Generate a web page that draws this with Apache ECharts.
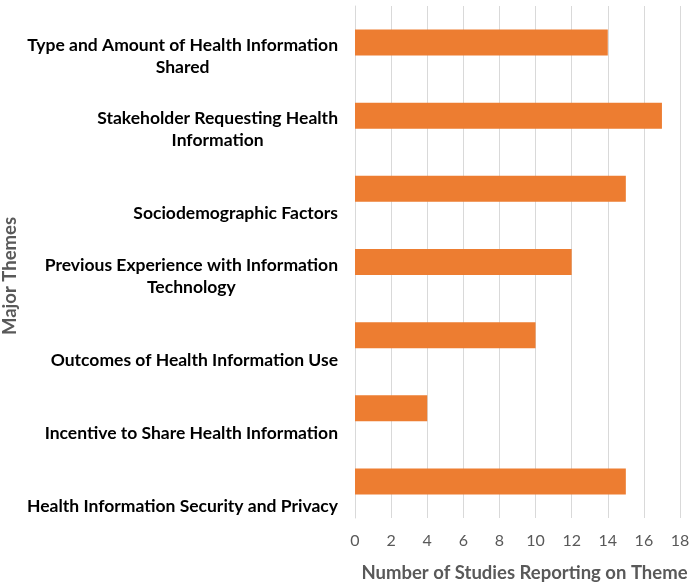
<!DOCTYPE html>
<html>
<head>
<meta charset="utf-8">
<script src="https://cdn.jsdelivr.net/npm/echarts@6/dist/echarts.min.js"></script>
<style>
  html, body { margin: 0; padding: 0; background: #fff; }
  #chart { width: 697px; height: 588px; }
</style>
</head>
<body>
<div id="chart"></div>
<script>
// themes, top to bottom (line breaks as in the chart)
const themes = [
    'Type and Amount of Health Information\nShared',
    'Stakeholder Requesting Health\nInformation',
    'Sociodemographic Factors',
    'Previous Experience with Information\nTechnology',
    'Outcomes of Health Information Use',
    'Incentive to Share Health Information',
    'Health Information Security and Privacy'
];
const studyCounts = [14, 17, 15, 12, 10, 4, 15];
const xTicks = [0, 18, 2]; // min, max, interval

const chart = echarts.init(document.getElementById('chart'));

const option = {
    backgroundColor: '#fff',
    animation: false,
    grid: { left: 355, right: 17, top: 6, bottom: 68 },
    xAxis: {
        type: 'value',
        min: xTicks[0],
        max: xTicks[1],
        interval: xTicks[2],
        name: 'Number of Studies Reporting on Theme',
        nameLocation: 'middle',
        nameGap: 46,
        nameTextStyle: { fontFamily: 'Lato', fontWeight: 'bold', fontSize: 18.5, color: '#595959', padding: [0, 0, 0, 14] },
        axisLine: { show: false },
        axisTick: { show: false },
        axisLabel: { margin: 15, fontFamily: 'Lato', fontSize: 16, color: '#595959' },
        splitLine: { lineStyle: { color: '#d9d9d9' } }
    },
    yAxis: {
        type: 'category',
        inverse: true,
        data: themes,
        name: 'Major Themes',
        nameLocation: 'middle',
        nameRotate: 90,
        nameGap: 335,
        nameTextStyle: { fontFamily: 'Lato', fontWeight: 'bold', fontSize: 18.5, color: '#595959', padding: [0, 28, 0, 0] },
        axisLine: { lineStyle: { color: '#d9d9d9' } },
        axisTick: { show: false },
        axisLabel: {
            margin: 17,
            verticalAlign: 'bottom',
            padding: [0, 0, -36, 0],
            formatter: v => v.split('\n').map(l => '{c|' + l + '}').join('\n'),
            rich: {
                c: { align: 'center', fontFamily: 'Lato', fontWeight: 'bold', fontSize: 17.5, lineHeight: 22, color: '#000' }
            }
        }
    },
    series: [{
        type: 'bar',
        data: studyCounts,
        barWidth: 26,
        itemStyle: { color: '#ED7D31' }
    }]
};

chart.setOption(option);
</script>
</body>
</html>
